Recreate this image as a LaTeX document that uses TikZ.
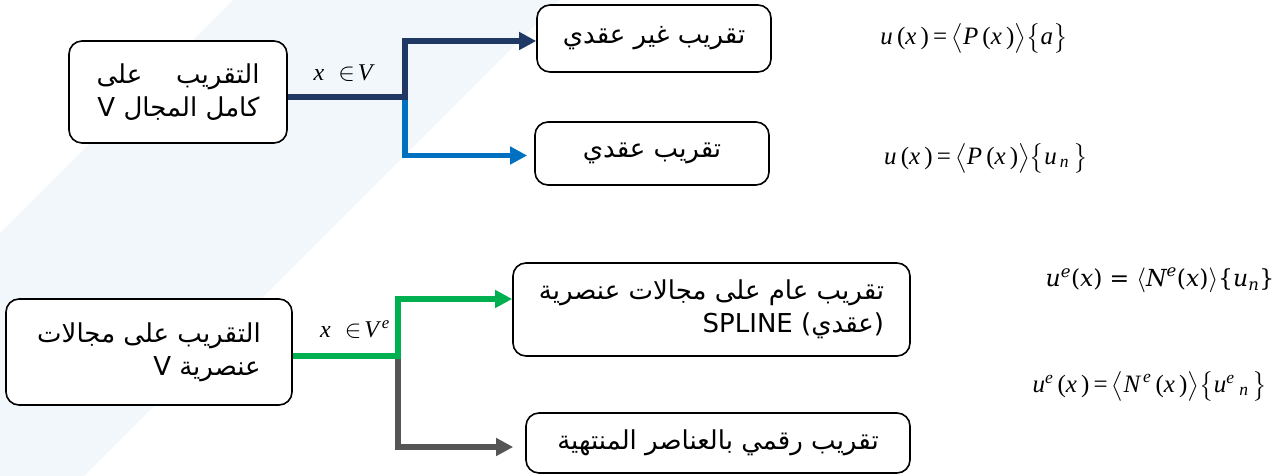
\documentclass[tikz,border=0pt]{standalone}
\usepackage{fontspec}
\usepackage{amsmath}
\usetikzlibrary{arrows.meta}
\TeXXeTstate=1
\newfontfamily\arabicfont[Script=Arabic]{DejaVu Sans}
\newfontfamily\dvs{DejaVu Sans}
\newfontfamily\dvserif{DejaVu Serif}
\newfontfamily\tms{Liberation Serif}
\newcommand\ti[1]{\text{\tms\itshape #1}}
\newcommand\tu[1]{\text{\tms #1}}
\newcommand\ci[1]{\text{\dvserif\itshape #1}}
\newcommand\cu[1]{\text{\dvserif #1}}
\definecolor{bandcol}{RGB}{242,247,252}
\definecolor{navyln}{RGB}{31,56,100}
\definecolor{blueln}{RGB}{0,112,192}
\definecolor{greenln}{RGB}{0,176,80}
\definecolor{grayln}{RGB}{85,85,85}
\tikzset{
  boxst/.style={draw=black, line width=1.6pt, rounded corners=13pt, fill=white,
    inner sep=0pt, align=right, font=\arabicfont\fontsize{26}{33}\selectfont},
  conn/.style={line width=5.5pt, -{Triangle[length=17pt,width=17pt]}},
  frm/.style={inner sep=0pt, font=\fontsize{25}{29}\selectfont}
}
\begin{document}
\begin{tikzpicture}[x=1pt,y=-1pt]
\useasboundingbox (0,0) rectangle (1288,476);
\fill[bandcol] (233,0) -- (560,0) -- (84,476) -- (0,476) -- (0,233) -- cycle;

% boxes
\node[boxst, minimum width=218pt, minimum height=102pt] (b1) at (178,92)
  {\hbox to 163pt{على\hfill التقريب}\\ \beginR كامل المجال {\dvs V}\endR};
\node[boxst, minimum width=234pt, minimum height=67pt] (b2) at (654,38.5)
  {\beginR تقريب غير عقدي\endR};
\node[boxst, minimum width=234pt, minimum height=63pt] (b3) at (652,153.5)
  {\beginR تقريب عقدي\endR};
\node[boxst, minimum width=286pt, minimum height=106pt] (b4) at (149,352)
  {\beginR التقريب على مجالات\endR\\ \beginR عنصرية {\dvs V}\endR};
\node[boxst, minimum width=397pt, minimum height=93pt] (b5) at (711.5,309.5)
  {\beginR تقريب عام على مجالات عنصرية\endR\\ {\dvs SPLINE (}عقدي{\dvs )}};
\node[boxst, minimum width=384pt, minimum height=60pt] (b6) at (718,443)
  {\beginR تقريب رقمي بالعناصر المنتهية\endR};

% connectors
\coordinate (j1) at (405,97);
\coordinate (j2) at (398,356);
\draw[conn, blueln, shorten >=7pt] (j1) |- ([yshift=-2pt]b3.west);
\draw[conn, navyln] (b1.east |- j1) -- (j1) |- ([yshift=-2.5pt]b2.west);
\draw[conn, grayln, line width=6.5pt, shorten >=12pt] (j2) |- ([yshift=-4pt]b6.west);
\draw[conn, greenln] (b4.east |- j2) -- (j2) |- ([yshift=10.5pt]b5.west);

% labels
\node[frm, font=\fontsize{24}{28}\selectfont] (l1) at (343,73) {$\ti{x}\ \in\!\ti{V}$};
\node[frm, font=\fontsize{24}{28}\selectfont] (l2) at (355,330) {$\ti{x}\ \in\!\ti{V}^{\,\ti{e}}$};

% formulas
\node[frm] (f1) at (974,38)
  {$\ti{u}\,\tu{(}\ti{x}\,\tu{)}\,\tu{=}\,\big\langle\ti{P}\,\tu{(}\ti{x}\,\tu{)}\big\rangle\big\{\ti{a}\big\}$};
\node[frm] (f2) at (986,158)
  {$\ti{u}\,\tu{(}\ti{x}\,\tu{)}\,\tu{=}\,\big\langle\ti{P}\,\tu{(}\ti{x}\,\tu{)}\big\rangle\big\{\ti{u}_{\,\ti{n}}\,\big\}$};
\node[frm, font=\fontsize{23.5}{27}\selectfont] (f3) at (1160,280)
  {$\ci{u}^{\ci{e}}\cu{(}\ci{x}\cu{)}\ \cu{=}\ \langle \ci{N}^{\ci{e}}\cu{(}\ci{x}\cu{)}\rangle\cu{\{}\ci{u}_{\ci{n}}\cu{\}}$};
\node[frm] (f4) at (1150,386)
  {$\ti{u}^{\ti{e}}\,\tu{(}\ti{x}\,\tu{)}\,\tu{=}\,\big\langle\ti{N}^{\,\ti{e}}\,\tu{(}\ti{x}\,\tu{)}\big\rangle\big\{\ti{u}^{\ti{e}}{}_{\;\ti{n}}\,\big\}$};
\end{tikzpicture}
\end{document}
